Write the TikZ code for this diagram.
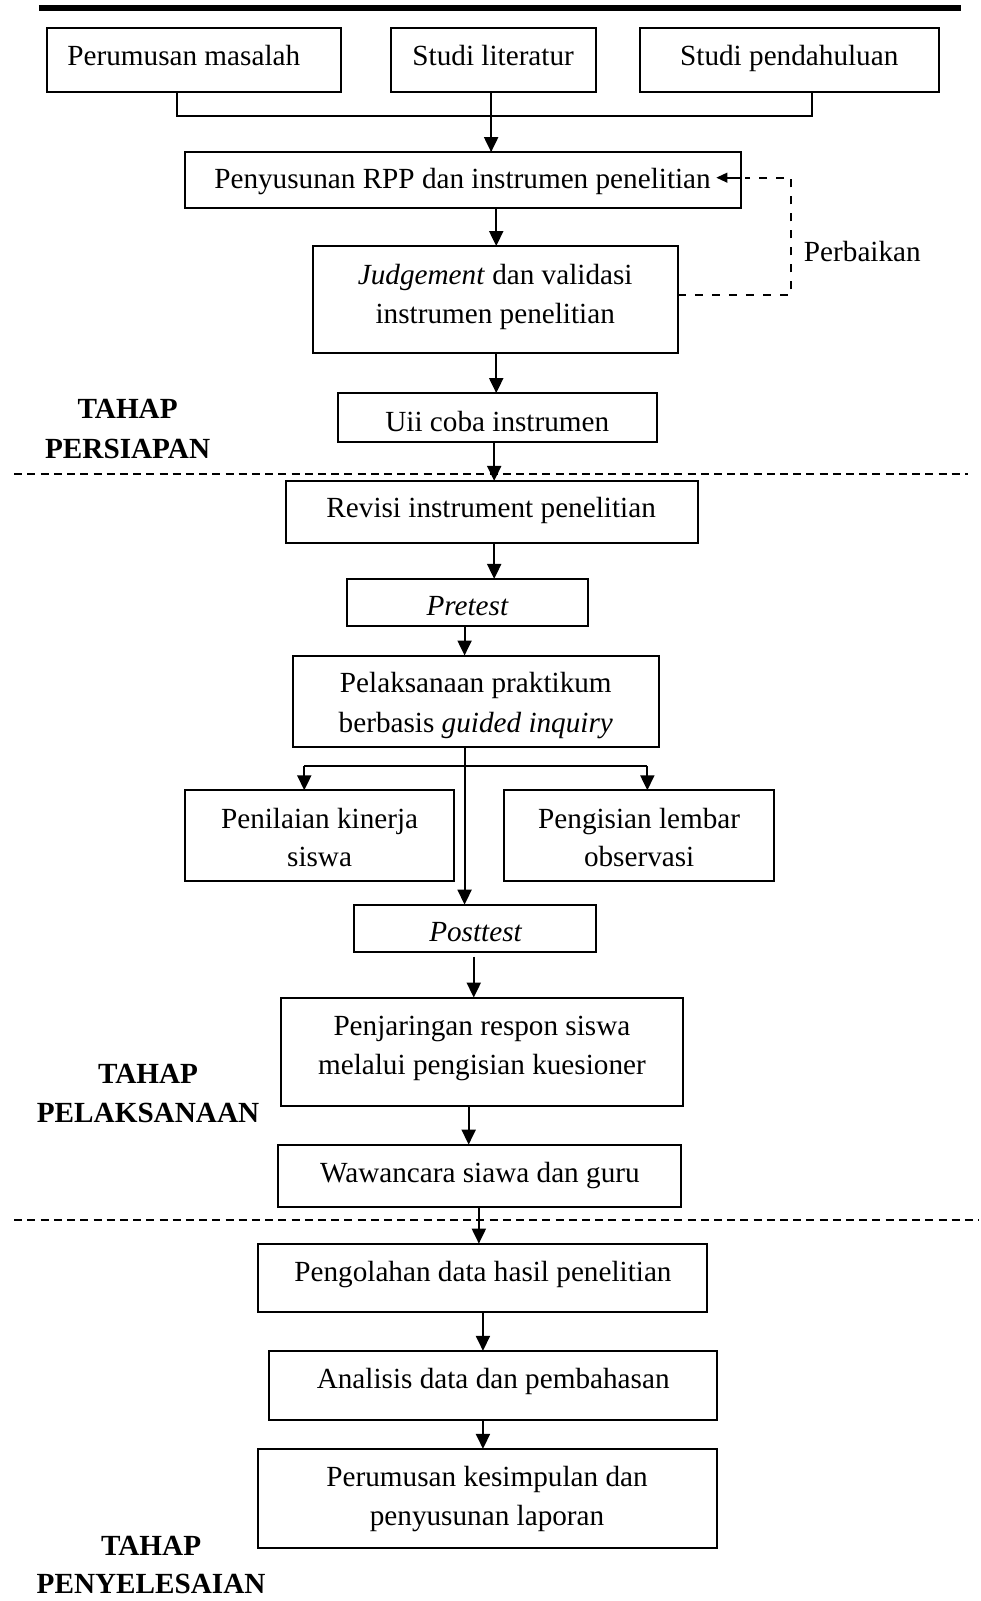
\documentclass[tikz,border=0pt]{standalone}
\usepackage{fontspec}
\setmainfont{Liberation Serif}
\usetikzlibrary{arrows.meta}
\newcommand\mkbox[5]{\node[boxst, minimum width={(#4-#2)*0.5104pt}, minimum height={(#5-#3)*0.5104pt}] (#1) at ({(#2+#4)/2},{(#3+#5)/2}) {};}
\begin{document}
\begin{tikzpicture}[x=0.5104pt,y=-0.5104pt,
  boxst/.style={draw, line width=1pt, inner sep=0pt, outer sep=0pt},
  txt/.style={anchor=base, inner sep=0pt, font=\fontsize{14.6pt}{19.4pt}\selectfont},
  lbl/.style={anchor=base, inner sep=0pt, font=\fontsize{14.6pt}{19.4pt}\selectfont\bfseries},
  line/.style={line width=1pt},
  arr/.style={line width=1pt, -{Triangle[length=7.5pt,width=7pt]}},
  sepline/.style={line width=0.9pt, dash pattern=on 4pt off 2.6pt},
  fbline/.style={line width=0.9pt, dash pattern=on 4pt off 4.5pt}]
\useasboundingbox (0,0) rectangle (960,1568);
% top bar
\coordinate (barL) at (38,8);
\coordinate (barR) at (941,8);
\draw[line width=2.8pt] (barL) -- (barR);
% boxes
\mkbox{b1}{46}{27}{334}{90}
\mkbox{b2}{383}{27}{584}{90}
\mkbox{b3}{627}{27}{920}{90}
\mkbox{b4}{181}{149}{726}{204}
\mkbox{b5}{307}{241}{664}{346}
\mkbox{b6}{331}{385}{643}{433}
\mkbox{b7}{280}{471}{684}{532}
\mkbox{b8}{340}{567}{576}{613}
\mkbox{b9}{287}{642}{645}{732}
\mkbox{b10}{181}{774}{445}{863}
\mkbox{b11}{494}{774}{758}{863}
\mkbox{b12}{347}{886}{584}{932}
\mkbox{b13}{275}{977}{669}{1083}
\mkbox{b14}{272}{1121}{667}{1182}
\mkbox{b15}{253}{1218}{692}{1285}
\mkbox{b16}{263}{1323}{702}{1391}
\mkbox{b17}{253}{1419}{702}{1516}
% texts
\node[txt] (t1) at (180,64) {Perumusan masalah};
\node[txt] (t2) at (483,64) {Studi literatur};
\node[txt] (t3) at (773,64) {Studi pendahuluan};
\node[txt] (t4) at (453,185) {Penyusunan RPP dan instrumen penelitian};
\node[txt] (t5a) at (485,279) {\textit{Judgement} dan validasi};
\node[txt] (t5b) at (485,317) {instrumen penelitian};
\node[txt] (t6) at (487,423) {Uii coba instrumen};
\node[txt] (t7) at (481,507) {Revisi instrument penelitian};
\node[txt] (t8) at (458,603) {\textit{Pretest}};
\node[txt] (t9a) at (466,678) {Pelaksanaan praktikum};
\node[txt] (t9b) at (466,717) {berbasis \textit{guided inquiry}};
\node[txt] (t10a) at (313,811) {Penilaian kinerja};
\node[txt] (t10b) at (313,849) {siswa};
\node[txt] (t11a) at (626,811) {Pengisian lembar};
\node[txt] (t11b) at (626,849) {observasi};
\node[txt] (t12) at (466,922) {\textit{Posttest}};
\node[txt] (t13a) at (472,1014) {Penjaringan respon siswa};
\node[txt] (t13b) at (472,1052) {melalui pengisian kuesioner};
\node[txt] (t14) at (470,1158) {Wawancara siawa dan guru};
\node[txt] (t15) at (473,1255) {Pengolahan data hasil penelitian};
\node[txt] (t16) at (483,1360) {Analisis data dan pembahasan};
\node[txt] (t17a) at (477,1456) {Perumusan kesimpulan dan};
\node[txt] (t17b) at (477,1494) {penyusunan laporan};
\node[txt, anchor=base west] (tp) at (787,256) {Perbaikan};
% stage labels
\node[lbl] (s1a) at (125,410) {TAHAP};
\node[lbl] (s1b) at (125,449) {PERSIAPAN};
\node[lbl] (s2a) at (145,1061) {TAHAP};
\node[lbl] (s2b) at (145,1099) {PELAKSANAAN};
\node[lbl] (s3a) at (148,1523) {TAHAP};
\node[lbl] (s3b) at (148,1561) {PENYELESAIAN};
% separators
\coordinate (sep1L) at (14,464);
\coordinate (sep1R) at (948,464);
\coordinate (sep2L) at (14,1195);
\coordinate (sep2R) at (958,1195);
\draw[sepline] (sep1L) -- (sep1R);
\draw[sepline] (sep2L) -- (sep2R);
% top junction
\coordinate (jl) at (173,114);
\coordinate (jr) at (795,114);
\coordinate (jm) at (481,114);
\draw[line] (jl |- b1.south) -- (jl) -- (jr) -- (jr |- b3.south);
\draw[arr] (jm |- b2.south) -- (jm |- b4.north);
% main chain
\coordinate (x5) at (486,0);
\draw[arr] (x5 |- b4.south) -- (x5 |- b5.north);
\draw[arr] (x5 |- b5.south) -- (x5 |- b6.north);
% feedback
\coordinate (fbc) at (775,289);
\coordinate (fbt) at (775,174);
\draw[fbline] (b5.east |- fbc) -- (fbc) -- (fbt) -- ([xshift=2pt]b4.east |- fbt);
\draw[line width=1pt, -{Triangle[length=5.5pt,width=4.8pt]}] (b4.east |- fbt) -- ([xshift=-12.5pt]b4.east |- fbt);
\coordinate (x7) at (484,0);
\draw[arr] (x7 |- b6.south) -- (x7 |- b7.north);
\draw[arr] (x7 |- b7.south) -- (x7 |- b8.north);
\coordinate (x9) at (455,0);
\draw[arr] (x9 |- b8.south) -- (x9 |- b9.north);
% split
\coordinate (sl) at (298,750);
\coordinate (sr) at (634,750);
\draw[line] (sl) -- (sr);
\draw[arr] (sl) -- (sl |- b10.north);
\draw[arr] (sr) -- (sr |- b11.north);
\draw[arr] (x9 |- b9.south) -- (x9 |- b12.north);
\coordinate (x12) at (464,0);
\draw[arr] ([yshift=-2.5pt]x12 |- b12.south) -- (x12 |- b13.north);
\coordinate (x13) at (459,0);
\draw[arr] (x13 |- b13.south) -- (x13 |- b14.north);
\coordinate (x14) at (469,0);
\draw[arr] (x14 |- b14.south) -- (x14 |- b15.north);
\coordinate (x15) at (473,0);
\draw[arr] (x15 |- b15.south) -- (x15 |- b16.north);
\draw[arr] (x15 |- b16.south) -- (x15 |- b17.north);
\end{tikzpicture}
\end{document}
